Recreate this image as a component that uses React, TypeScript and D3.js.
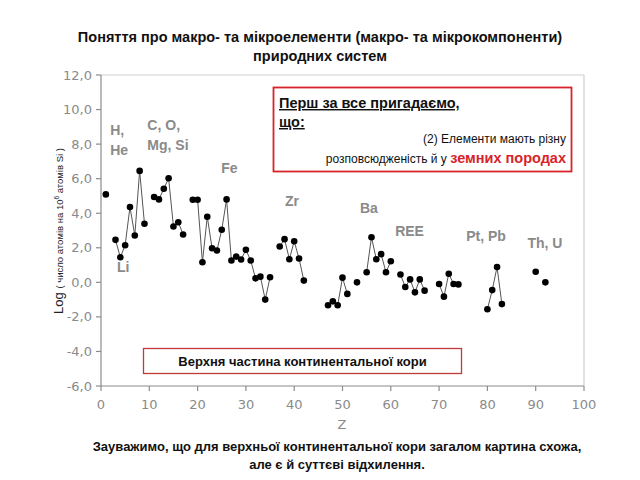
import React from "react";
import * as d3 from "d3";

const atomicNumbers = [1, 3, 4, 5, 6, 7, 8, 9, 11, 12, 13, 14, 15, 16, 17, 19, 20, 21, 22, 23, 24, 25, 26, 27, 28, 29, 30, 31, 32, 33, 34, 35, 37, 38, 39, 40, 41, 42, 47, 48, 49, 50, 51, 53, 55, 56, 57, 58, 59, 60, 62, 63, 64, 65, 66, 67, 70, 71, 72, 73, 74, 80, 81, 82, 83, 90, 92];
const logAbundance = [5.09, 2.46, 1.45, 2.15, 4.36, 2.71, 6.45, 3.39, 4.94, 4.8, 5.42, 6.02, 3.23, 3.48, 2.77, 4.78, 4.78, 1.16, 3.8, 1.97, 1.84, 3.04, 4.8, 1.26, 1.49, 1.32, 1.88, 1.26, 0.23, 0.33, -1.0, 0.29, 2.07, 2.5, 1.34, 2.38, 1.38, 0.1, -1.33, -1.1, -1.33, 0.27, -0.67, 0.0, 0.58, 2.61, 1.34, 1.63, 0.58, 1.22, 0.45, -0.27, 0.17, -0.58, 0.17, -0.48, -0.1, -0.83, 0.5, -0.1, -0.12, -1.56, -0.45, 0.89, -1.26, 0.61, 0.0];

const xTicks = [0, 10, 20, 30, 40, 50, 60, 70, 80, 90, 100];
const yTicks = [-6, -4, -2, 0, 2, 4, 6, 8, 10, 12];

const elementLabels = [
  { lines: ["H,", "He"], z: 1.9, v: 8.5 },
  { lines: ["C, O,", "Mg, Si"], z: 9.6, v: 8.8 },
  { lines: ["Li"], z: 3.3, v: 0.6 },
  { lines: ["Fe"], z: 24.9, v: 6.3 },
  { lines: ["Zr"], z: 38.1, v: 4.4 },
  { lines: ["Ba"], z: 53.6, v: 4.0 },
  { lines: ["REE"], z: 60.9, v: 2.7 },
  { lines: ["Pt, Pb"], z: 75.6, v: 2.4 },
  { lines: ["Th, U"], z: 88.3, v: 2.0 },
];

export default function App() {
  const W = 640, H = 480;
  const x = d3.scaleLinear().domain([0, 100]).range([101, 584]);
  const y = d3.scaleLinear().domain([-6, 12]).range([386, 75]);

  const pts = atomicNumbers.map((z, i) => ({ z, v: logAbundance[i] }));
  const segments: { z: number; v: number }[][] = [];
  pts.forEach((p, i) => {
    if (i > 0 && p.z === pts[i - 1].z + 1) segments[segments.length - 1].push(p);
    else segments.push([p]);
  });
  const line = d3.line<{ z: number; v: number }>().x(d => x(d.z)).y(d => y(d.v));

  const tickFont = "DejaVu Sans, Verdana, sans-serif";
  const boldFont = "Liberation Sans, Arial, sans-serif";
  const axisColor = "#8c8c8c";

  return (
    <svg width={W} height={H} style={{ position: "absolute", left: 0, top: 0, background: "#fff" }}>
      <rect x={0} y={0} width={W} height={H} fill="#fff" />
      {/* Title */}
      <text x={320} y={42} textAnchor="middle" fontFamily={boldFont} fontWeight="bold" fontSize={14.5} fill="#111">
        Поняття про макро- та мікроелементи (макро- та мікрокомпоненти)
      </text>
      <text x={320} y={61} textAnchor="middle" fontFamily={boldFont} fontWeight="bold" fontSize={14.5} fill="#111">
        природних систем
      </text>

      {/* plot frame */}
      <line x1={x(0)} x2={x(100)} y1={y(12)} y2={y(12)} stroke="#cfcfcf" strokeWidth={1.2} />
      <line x1={x(100)} x2={x(100)} y1={y(12)} y2={y(-6)} stroke="#cfcfcf" strokeWidth={1.2} />
      <line x1={x(0)} x2={x(0)} y1={y(12)} y2={y(-6)} stroke={axisColor} strokeWidth={1.2} />
      <line x1={x(0)} x2={x(100)} y1={y(-6)} y2={y(-6)} stroke={axisColor} strokeWidth={1.2} />

      {yTicks.map(t => (
        <g key={"y" + t}>
          <line x1={x(0) - 5} x2={x(0)} y1={y(t)} y2={y(t)} stroke={axisColor} strokeWidth={1.2} />
          <text x={92} y={y(t) + 4.5} textAnchor="end" fontFamily={tickFont} fontSize={13} fill="#8a8a8a">
            {t.toFixed(1).replace(".", ",")}
          </text>
        </g>
      ))}
      {xTicks.map(t => (
        <g key={"x" + t}>
          <line x1={x(t)} x2={x(t)} y1={y(-6)} y2={y(-6) + 5} stroke={axisColor} strokeWidth={1.2} />
          <text x={x(t)} y={409} textAnchor="middle" fontFamily={tickFont} fontSize={13} fill="#8a8a8a">
            {t}
          </text>
        </g>
      ))}
      <text x={342} y={429} textAnchor="middle" fontFamily={tickFont} fontSize={13} fill="#8a8a8a">Z</text>

      {/* y label */}
      <text transform={`translate(63,${231}) rotate(-90)`} textAnchor="middle" fontFamily={boldFont} fill="#222">
        <tspan fontSize={13}>Log </tspan>
        <tspan fontSize={9.5}>( число атомів на 10</tspan>
        <tspan fontSize={6.5} dy={-4}>6</tspan>
        <tspan fontSize={9.5} dy={4}> атомів Si )</tspan>
      </text>

      {/* element labels */}
      {elementLabels.map((l, i) => (
        <text key={"el" + i} x={x(l.z)} y={y(l.v)} fontFamily={boldFont} fontWeight="bold" fontSize={14} fill="#8a8a8a">
          {l.lines.map((s, j) => (
            <tspan key={j} x={x(l.z)} dy={j === 0 ? 0 : 20}>{s}</tspan>
          ))}
        </text>
      ))}

      {/* data */}
      {segments.filter(s => s.length > 1).map((s, i) => (
        <path key={"s" + i} d={line(s) || ""} fill="none" stroke="#555" strokeWidth={1} />
      ))}
      {pts.map((p, i) => (
        <circle key={"p" + i} cx={x(p.z)} cy={y(p.v)} r={3.3} fill="#000" />
      ))}

      {/* top red box */}
      <rect x={273.5} y={87.5} width={298} height={84} fill="#fff" stroke="#d8232a" strokeWidth={1.8} />
      <text x={279} y={108} fontFamily={boldFont} fontWeight="bold" fontSize={14.5} fill="#111" textDecoration="underline">
        Перш за все пригадаємо,
      </text>
      <text x={279} y={127} fontFamily={boldFont} fontWeight="bold" fontSize={14.5} fill="#111" textDecoration="underline">
        що:
      </text>
      <text x={566} y={143} textAnchor="end" fontFamily={boldFont} fontSize={12} fill="#111">
        (2) Елементи мають різну
      </text>
      <text x={566} y={163} textAnchor="end" fontFamily={boldFont} fill="#111">
        <tspan fontSize={12}>розповсюдженість й у </tspan>
        <tspan fontSize={14.5} fill="#d8232a" fontWeight="bold">земних породах</tspan>
      </text>

      {/* bottom box */}
      <rect x={143.5} y={348.5} width={318} height={25} fill="#fff" stroke="#c0393b" strokeWidth={1.3} />
      <text x={302.5} y={366} textAnchor="middle" fontFamily={boldFont} fontWeight="bold" fontSize={13} fill="#111">
        Верхня частина континентальної кори
      </text>

      {/* footer */}
      <text x={337} y={451} textAnchor="middle" fontFamily={boldFont} fontWeight="bold" fontSize={13} fill="#111">
        Зауважимо, що для верхньої континентальної кори загалом картина схожа,
      </text>
      <text x={337} y={469} textAnchor="middle" fontFamily={boldFont} fontWeight="bold" fontSize={13} fill="#111">
        але є й суттєві відхилення.
      </text>
    </svg>
  );
}
